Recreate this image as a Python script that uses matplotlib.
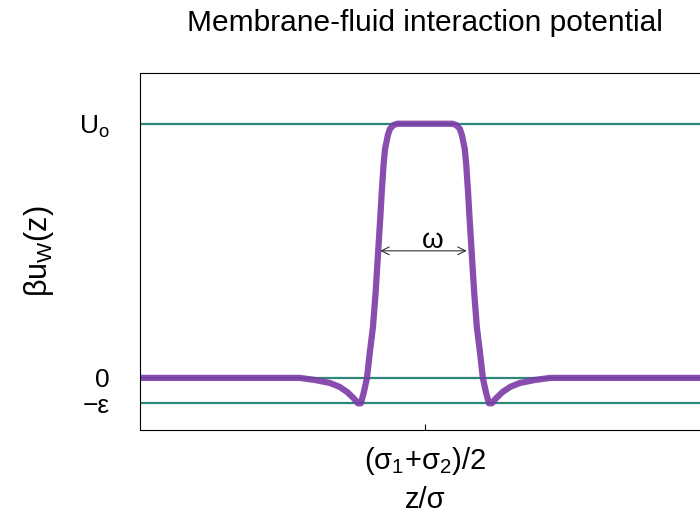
import matplotlib.pyplot as plt
import numpy as np

plt.rcParams['font.family'] = ['Liberation Sans', 'DejaVu Sans']
plt.rcParams['mathtext.fontset'] = 'custom'
plt.rcParams['mathtext.rm'] = 'Liberation Sans'
plt.rcParams['mathtext.it'] = 'Liberation Sans'

# potential profile (x in units around the membrane centre)
z = [-3.0, -1.32, -1.16, -1.0, -0.9, -0.82, -0.75, -0.705, -0.675, -0.645,
     -0.61, -0.58, -0.547, -0.52, -0.495, -0.47, -0.453, -0.435, -0.42,
     -0.39, -0.368, -0.33, -0.29, 0.0,
     0.29, 0.33, 0.368, 0.39, 0.42, 0.435, 0.453, 0.47, 0.495, 0.52, 0.547,
     0.58, 0.61, 0.645, 0.675, 0.705, 0.75, 0.82, 0.9, 1.0, 1.16, 1.32, 3.0]
u = [0.0, 0.0, -0.008, -0.02, -0.035, -0.055, -0.08, -0.1, -0.1, -0.06,
     0.0, 0.1, 0.2, 0.33, 0.48, 0.63, 0.74, 0.84, 0.9,
     0.955, 0.98, 0.995, 1.0, 1.0,
     1.0, 0.995, 0.98, 0.955, 0.9, 0.84, 0.74, 0.63, 0.48, 0.33, 0.2,
     0.1, 0.0, -0.06, -0.1, -0.1, -0.08, -0.055, -0.035, -0.02, -0.008, 0.0, 0.0]

levels = [1.0, 0.0, -0.1]
level_labels = ['U$_\\mathrm{o}$', '0', '\u2212\u03b5']
omega_x = [-0.5, 0.47]
omega_y = 0.5

fig = plt.figure(figsize=(7, 5.19), dpi=100)
ax = fig.add_axes([0.2, 0.1715, 0.814, 0.688])

for lv in levels:
    ax.axhline(lv, color='#2e877c', lw=1.6, zorder=1)

ax.plot(z, u, color='#7b3aa6', lw=4.5, alpha=0.9, solid_capstyle='butt', zorder=2)

ax.annotate('', xy=(omega_x[0], omega_y), xytext=(omega_x[1], omega_y),
            arrowprops=dict(arrowstyle='<->', color='#333333', lw=0.8,
                            mutation_scale=14))
ax.text(np.mean(omega_x) + 0.1, omega_y - 0.012, '\u03c9', fontsize=20,
        ha='center', va='bottom')

ax.set_xlim(-3, 3)
ax.set_ylim(-0.205, 1.2)
ax.set_xticks([0])
ax.set_xticklabels(['(\u03c3$_1$+\u03c3$_2$)/2'], fontsize=21)
ax.set_yticks(levels)
ax.set_yticklabels(level_labels, fontsize=19)
ax.tick_params(axis='x', direction='in', length=4, pad=11)
ax.tick_params(axis='y', direction='in', length=0, pad=22)
ax.spines['right'].set_visible(False)

ax.set_xlabel('z/\u03c3', fontsize=21, labelpad=6)
ax.set_ylabel('\u03b2u$_\\mathrm{W}$(z)', fontsize=22, labelpad=16)
ax.set_title('Membrane-fluid interaction potential', fontsize=21.5, pad=30)

fig.savefig('out.png', dpi=100)
